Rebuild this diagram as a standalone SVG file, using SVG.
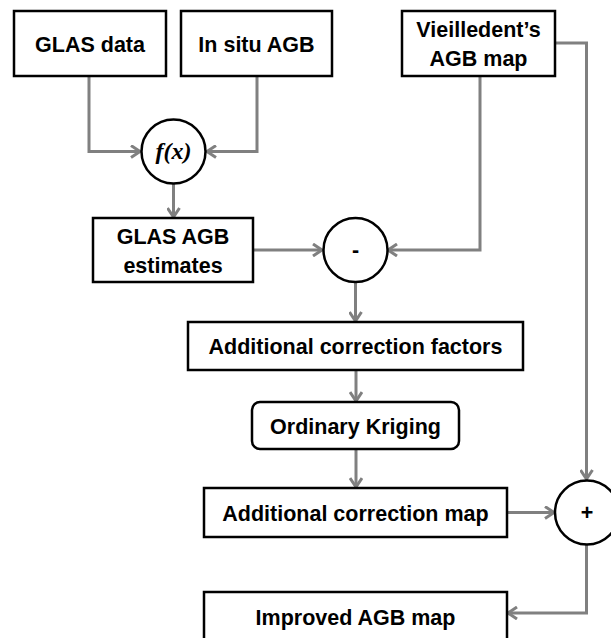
<svg xmlns="http://www.w3.org/2000/svg" width="611" height="638" viewBox="0 0 611 638">
<defs>
<marker id="arr" markerWidth="14" markerHeight="14" refX="11" refY="7" orient="auto" markerUnits="userSpaceOnUse">
<path d="M2,1 L11,7 L2,13" fill="none" stroke="#808080" stroke-width="3"/>
</marker>
<style>
.box{fill:#fff;stroke:#000;stroke-width:2.5}
.circ{fill:#fff;stroke:#000;stroke-width:2.5}
.t{font-family:"Liberation Sans",Arial,sans-serif;font-weight:bold;font-size:21.5px;text-anchor:middle;fill:#000}
.c{fill:none;stroke:#808080;stroke-width:3;marker-end:url(#arr)}
</style>
</defs>
<rect width="611" height="638" fill="#fff"/>
<g id="connectors">
<path class="c" d="M89,77 V151.5 H140"/>
<path class="c" d="M257,77 V151.5 H207"/>
<path class="c" d="M173.5,184 V217"/>
<path class="c" d="M254,250 H322"/>
<path class="c" d="M480,77 V250 H388"/>
<path class="c" d="M355.5,282 V321"/>
<path class="c" d="M356,371 V401"/>
<path class="c" d="M356,450 V487"/>
<path class="c" d="M508,512.5 H554"/>
<path class="c" d="M556,43 H586.5 V479"/>
<path class="c" d="M586.5,545 V613 H508"/>
</g>
<g id="glas-data">
<rect class="box" x="14" y="11" width="152" height="65"/>
<text class="t" x="90" y="51.5">GLAS data</text>
</g>
<g id="in-situ-agb">
<rect class="box" x="181" y="11" width="151" height="65"/>
<text class="t" x="256.5" y="51.5">In situ AGB</text>
</g>
<g id="vieilledent">
<rect class="box" x="402" y="11" width="153" height="65"/>
<text class="t" x="478.5" y="37">Vieilledent’s</text>
<text class="t" x="478.5" y="66">AGB map</text>
</g>
<g id="fx">
<circle class="circ" cx="173.5" cy="151.5" r="32"/>
<text x="173.5" y="159" font-family="'Liberation Serif','Times New Roman',serif" font-style="italic" font-weight="bold" font-size="24" text-anchor="middle">f(x)</text>
</g>
<g id="glas-agb">
<rect class="box" x="93" y="218" width="160" height="64"/>
<text class="t" x="173" y="243.5">GLAS AGB</text>
<text class="t" x="173" y="272.5">estimates</text>
</g>
<g id="minus">
<circle class="circ" cx="355.5" cy="250" r="32"/>
<text class="t" x="355.5" y="257">-</text>
</g>
<g id="acf">
<rect class="box" x="188" y="322" width="335" height="48"/>
<text class="t" x="355.5" y="354">Additional correction factors</text>
</g>
<g id="kriging">
<rect class="box" x="252" y="402" width="207" height="47" rx="8"/>
<text class="t" x="355.5" y="433.5">Ordinary Kriging</text>
</g>
<g id="acm">
<rect class="box" x="204" y="488" width="303" height="49"/>
<text class="t" x="355.5" y="520.5">Additional correction map</text>
</g>
<g id="plus">
<circle class="circ" cx="587" cy="512.5" r="32"/>
<text class="t" x="587" y="520">+</text>
</g>
<g id="improved">
<rect class="box" x="204" y="592" width="303" height="49"/>
<text class="t" x="355.5" y="624.5">Improved AGB map</text>
</g>
</svg>
